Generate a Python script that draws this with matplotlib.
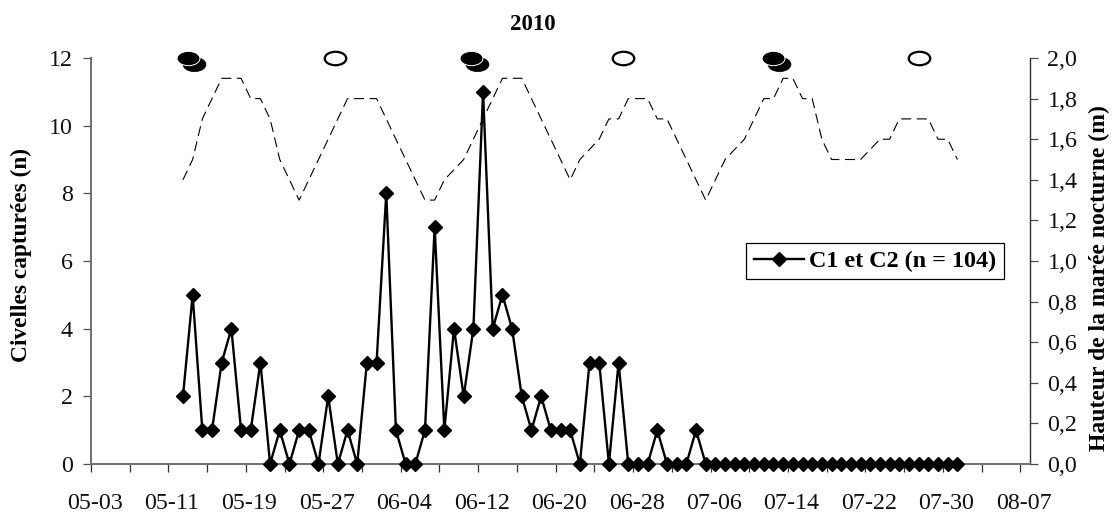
import matplotlib
matplotlib.use("Agg")
import matplotlib.pyplot as plt
from matplotlib.path import Path
from matplotlib.transforms import Affine2D, ScaledTranslation

plt.rcParams['font.family'] = ['Liberation Serif', 'DejaVu Serif']

tick_days = list(range(0, 97, 4))
label_days = list(range(0, 97, 8))
date_labels = ["05-03", "05-11", "05-19", "05-27", "06-04", "06-12", "06-20",
               "06-28", "07-06", "07-14", "07-22", "07-30", "08-07"]
first_day = 9.5
civelles = [2, 5, 1, 1, 3, 4, 1, 1, 3, 0, 1, 0, 1, 1, 0, 2, 0, 1, 0, 3, 3, 8, 1, 0, 0, 1, 7, 1, 4, 2,
            4, 11, 4, 5, 4, 2, 1, 2, 1, 1, 1, 0, 3, 3, 0, 3, 0, 0, 0, 1, 0, 0, 0, 1, 0,
            0, 0, 0, 0, 0, 0, 0, 0, 0, 0, 0, 0, 0, 0, 0, 0, 0, 0, 0, 0, 0, 0, 0, 0, 0, 0]
maree = [1.4, 1.5, 1.7, 1.8, 1.9, 1.9, 1.9, 1.8, 1.8, 1.7, 1.5, 1.4, 1.3, 1.4, 1.5, 1.6, 1.7, 1.8, 1.8, 1.8,
         1.8, 1.7, 1.6, 1.5, 1.4, 1.3, 1.3, 1.4, 1.45, 1.5, 1.6, 1.7, 1.8, 1.9, 1.9, 1.9, 1.8, 1.7, 1.6, 1.5,
         1.4, 1.5, 1.55, 1.6, 1.7, 1.7, 1.8, 1.8, 1.8, 1.7, 1.7, 1.6, 1.5, 1.4, 1.3, 1.4, 1.5, 1.55, 1.6, 1.7,
         1.8, 1.8, 1.9, 1.9, 1.8, 1.8, 1.6, 1.5, 1.5, 1.5, 1.5, 1.55, 1.6, 1.6, 1.7, 1.7, 1.7, 1.7, 1.6, 1.6, 1.5]
nouvelle_lune = [10.0, 39.3, 70.5]
pleine_lune = [25.2, 55.0, 85.5]
lune_y = 12

days = [first_day + i for i in range(len(civelles))]

W, H = 1114, 517
fig = plt.figure(figsize=(W / 100, H / 100), dpi=100)
L, R, T, B = 91, 1030, 58, 464
ax = fig.add_axes([L / W, 1 - B / H, (R - L) / W, (B - T) / H])
ax2 = ax.twinx()

ax.set_xlim(0, 97)
ax.set_ylim(0, 12)
ax2.set_ylim(0, 2)
ax.set_zorder(ax2.get_zorder() + 1)
ax.patch.set_visible(False)

line, = ax.plot(days, civelles, color='black', lw=1.7, marker='D', ms=7.2, mfc='black', mec='black', mew=1,
                clip_on=False, label='C1 et C2 (n = 104)', zorder=3)
ax2.plot(days, maree, color='black', lw=0.8, dashes=(9, 5), zorder=2)

ellipse = Path.unit_circle().transformed(Affine2D().scale(1.6, 1))
shift_x, shift_y = 0.6, -0.18
ax.plot([d + shift_x for d in nouvelle_lune], [lune_y + shift_y] * 3, ls='', marker=ellipse, ms=16.5,
        mfc='black', mec='black', mew=0.5, clip_on=False, zorder=4)
ax.plot(nouvelle_lune, [lune_y] * 3, ls='', marker=ellipse, ms=16.5,
        mfc='black', mec='white', mew=0.7, clip_on=False, zorder=5)
ax.plot(pleine_lune, [lune_y] * 3, ls='', marker=ellipse, ms=15.5,
        mfc='white', mec='black', mew=1.6, clip_on=False, zorder=5)

ax.set_xticks(tick_days, minor=True)
ax.set_xticks(label_days)
ax.set_xticklabels(date_labels)
ax.set_yticks(range(0, 13, 2))
ax2.set_yticks([i / 5 for i in range(11)])
ax2.set_yticklabels([f"{i / 5:.1f}".replace('.', ',') for i in range(11)])

ax.spines['top'].set_visible(False)
ax2.spines['top'].set_visible(False)
for s in ('left', 'bottom'):
    ax.spines[s].set_color('#707070')
    ax.spines[s].set_linewidth(1.4)
    ax2.spines[s].set_visible(False)
ax.spines['right'].set_visible(False)
ax2.spines['right'].set_color('#303030')
ax2.spines['right'].set_linewidth(1.0)

FS = 17.3
ax.tick_params(axis='y', length=6, width=0.9, labelsize=FS, pad=7, color='#505050', labelcolor='#111111')
ax.tick_params(axis='x', which='both', direction='out', length=6, width=0.9, color='#303030')
ax.tick_params(axis='x', which='major', labelsize=FS, pad=15, labelcolor='#111111')
ax2.tick_params(axis='y', length=5.5, width=0.9, labelsize=FS, pad=7, color='#505050', labelcolor='#111111')
offset = ScaledTranslation(3.5 / 100, 0, fig.dpi_scale_trans)
for lab in ax.get_xticklabels():
    lab.set_transform(lab.get_transform() + offset)

ax.set_ylabel('Civelles capturées (n)', fontsize=16.8, fontweight='bold')
ax.yaxis.set_label_coords((21 - L) / (R - L), (B - 255) / (B - T))
ax.yaxis.label.set_va('center')
ax2.set_ylabel('Hauteur de la marée nocturne (m)', fontsize=17, fontweight='bold')
ax2.yaxis.set_label_coords((1099 - L) / (R - L), (B - 278) / (B - T))
ax2.yaxis.label.set_va('center')
fig.text(533 / W, 1 - 24 / H, '2010', fontsize=16.5, fontweight='bold', ha='center', va='center')

leg = ax.legend(handles=[line], loc='center', bbox_to_anchor=((875 - L) / (R - L), (B - 261) / (B - T)),
                prop={'weight': 'bold', 'size': 17.4}, frameon=True, fancybox=False, framealpha=1,
                edgecolor='black', handlelength=2.1, borderpad=0.3, handletextpad=0.2, borderaxespad=0)
leg.get_frame().set_linewidth(0.9)

fig.savefig('out.png', dpi=100)
